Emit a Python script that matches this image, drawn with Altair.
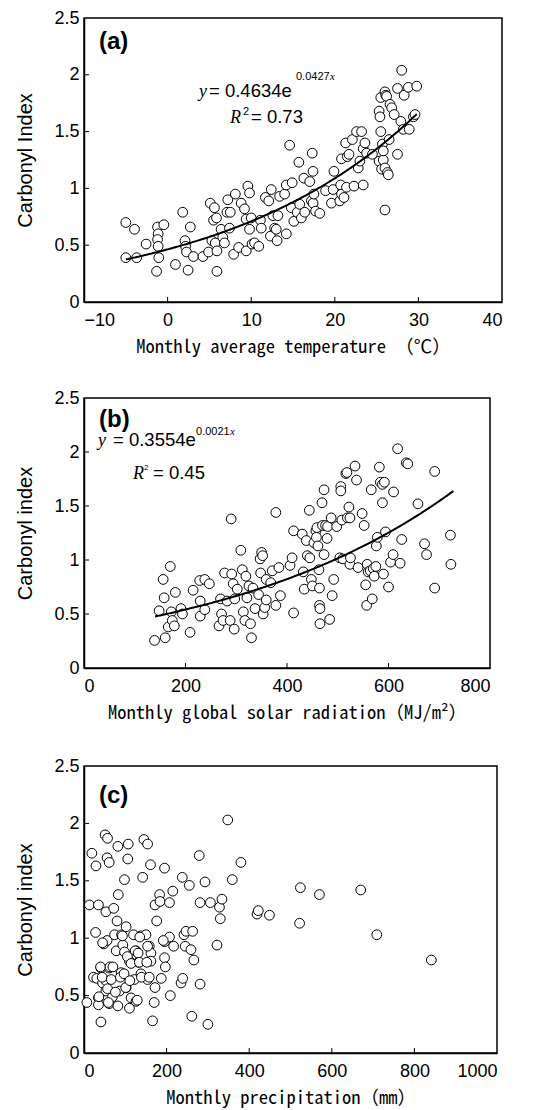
import altair as alt
import pandas as pd

# ---------------- data ----------------
# (a) Monthly average temperature vs carbonyl index
A_TEMP = [-5.0, -3.96, -5.0, -3.7, -2.57, -1.32, -1.2, -1.13, -1.2, -1.13,
          -1.06, -0.45, 0.94, 1.81, 2.08, 2.15, 2.26, 2.45, 2.72, 3.09,
          4.23, 4.9, 5.1, 5.3, 5.5, 5.6, 5.7, 5.85, 5.9, 5.9,
          6.4, 6.6, 6.8, 7.1, 7.2, 7.4, 7.5, 7.9, 8.1, 8.5,
          8.8, 9.2, 9.4, 9.4, 9.6, 9.8, 9.8, 10.0, 10.1, 10.4,
          10.9, 11.1, 11.2, 11.7, 12.1, 12.3, 12.4, 12.6, 12.8, 13.0,
          13.1, 13.2, 13.4, 14.0, 14.2, 14.2, 14.6, 14.8, 14.9, 15.1,
          15.5, 15.7, 15.8, 16.0, 16.3, 16.4, 17.0, 17.2, 17.3, 17.4,
          17.4, 17.5, 17.7, 18.2, 18.9, 19.6, 19.8, 19.9, 20.6, 20.7,
          20.8, 20.8, 21.1, 21.3, 21.4, 21.5, 21.7, 22.1, 22.3, 22.6,
          22.8, 23.0, 23.2, 23.4, 23.4, 23.6, 23.8, 24.5, 25.3, 25.5,
          25.3, 25.4, 25.5, 25.6, 25.7, 25.8, 25.8, 26.0, 26.0, 26.0,
          26.1, 26.2, 26.3, 26.4, 26.5, 26.6, 26.8, 27.1, 27.5, 27.5,
          27.9, 28.0, 28.3, 28.2, 28.8, 28.9, 29.4, 29.6, 29.8]
A_CI = [0.70, 0.64, 0.39, 0.39, 0.51, 0.27, 0.66, 0.60, 0.55, 0.49,
        0.39, 0.68, 0.33, 0.79, 0.54, 0.49, 0.44, 0.28, 0.66, 0.40,
        0.40, 0.44, 0.87, 0.54, 0.72, 0.83, 0.52, 0.74, 0.45, 0.27,
        0.64, 0.57, 0.52, 0.79, 0.90, 0.65, 0.79, 0.42, 0.95, 0.48,
        0.87, 0.82, 0.73, 0.45, 1.02, 0.96, 0.64, 0.74, 0.51, 0.52,
        0.49, 0.72, 0.65, 0.92, 0.89, 0.58, 0.99, 0.76, 0.65, 0.64,
        0.54, 0.76, 0.93, 0.95, 0.60, 1.03, 1.38, 0.83, 1.05, 0.71,
        0.79, 1.23, 0.86, 0.74, 1.09, 0.79, 1.06, 0.89, 1.31, 1.15,
        0.87, 0.95, 0.80, 0.78, 0.98, 0.87, 0.99, 1.15, 0.89, 1.03,
        1.26, 0.95, 0.92, 1.40, 1.01, 1.28, 1.30, 1.43, 1.02, 1.50,
        1.18, 1.24, 1.50, 1.03, 1.35, 1.40, 1.31, 1.30, 1.24, 1.80,
        1.68, 1.63, 1.50, 1.17, 1.39, 1.25, 1.33, 0.81, 1.85, 1.18,
        1.82, 1.81, 1.14, 1.12, 1.43, 1.74, 1.71, 1.65, 1.88, 1.30,
        1.59, 2.04, 1.82, 1.52, 1.89, 1.52, 1.63, 1.65, 1.90]

# (b) Monthly global solar radiation vs carbonyl index
B_RAD = [139, 148, 156, 158, 160, 166, 170, 172, 174, 178,
         180, 191, 194, 209, 215, 228, 229, 229, 238, 238,
         247, 266, 269, 271, 274, 277, 282, 288, 290, 291,
         294, 296, 297, 302, 309, 312, 314, 317, 319, 321,
         325, 328, 330, 333, 337, 344, 347, 348, 350, 352,
         353, 356, 359, 359, 368, 371, 378, 378, 384, 387,
         406, 410, 413, 413, 430, 432, 434, 438, 440, 444,
         445, 448, 450, 453, 457, 458, 459, 461, 463, 464,
         464, 465, 465, 469, 470, 473, 473, 476, 479, 480,
         484, 487, 489, 492, 498, 504, 506, 506, 508, 510,
         516, 518, 519, 522, 524, 524, 525, 534, 537, 540,
         548, 552, 555, 557, 558, 560, 564, 566, 568, 570,
         572, 576, 578, 582, 584, 588, 588, 590, 592, 594,
         600, 604, 609, 610, 618, 623, 626, 635, 638, 658,
         671, 675, 691, 691, 722, 723, 575]
B_CI = [0.255, 0.53, 0.82, 0.65, 0.28, 0.38, 0.94, 0.52, 0.44, 0.39,
        0.70, 0.55, 0.50, 0.33, 0.72, 0.81, 0.62, 0.48, 0.82, 0.54,
        0.78, 0.39, 0.64, 0.50, 0.44, 0.88, 0.62, 0.44, 1.38, 0.87,
        0.78, 0.36, 0.64, 0.73, 1.09, 0.91, 0.52, 0.44, 0.85, 0.65,
        0.76, 0.41, 0.28, 0.74, 0.55, 0.68, 1.01, 0.88, 1.07, 1.04,
        0.50, 0.56, 0.82, 0.63, 0.79, 0.90, 0.58, 1.44, 0.93, 0.67,
        0.95, 1.02, 0.51, 1.27, 1.24, 0.89, 0.73, 1.18, 1.04, 1.46,
        1.02, 0.82, 0.76, 1.16, 1.27, 1.21, 1.30, 1.13, 0.91, 0.74,
        0.58, 0.55, 0.41, 1.53, 1.32, 1.65, 1.05, 1.32, 1.20, 1.31,
        0.45, 1.39, 0.67, 0.82, 1.31, 1.02, 1.68, 1.64, 1.37, 1.01,
        1.80, 1.81, 1.39, 1.49, 1.39, 0.96, 1.02, 1.87, 1.74, 0.93,
        1.43, 1.32, 0.77, 0.58, 0.96, 0.89, 0.90, 1.65, 0.64, 0.92,
        0.85, 1.13, 1.21, 1.86, 1.72, 1.70, 1.53, 0.87, 1.72, 1.26,
        0.75, 0.98, 1.05, 1.63, 2.03, 0.97, 1.19, 1.90, 1.89, 1.52,
        1.15, 1.05, 1.82, 0.74, 1.23, 0.96, 0.94]

# (c) Monthly precipitation vs carbonyl index
C_PREC = [7, 13, 19, 23, 28, 29, 31, 35, 35, 35,
          41, 41, 45, 48, 51, 53, 53, 53, 56, 56,
          57, 61, 61, 61, 69, 72, 74, 78, 80, 82,
          83, 86, 90, 91, 94, 98, 102, 102, 106, 107,
          110, 110, 114, 120, 122, 126, 126, 132, 137, 138,
          142, 145, 150, 154, 154, 158, 161, 162, 162, 166,
          170, 172, 172, 176, 183, 184, 187, 195, 195, 195,
          197, 207, 207, 209, 215, 217, 235, 238, 239, 242,
          245, 247, 255, 259, 261, 263, 266, 279, 281, 281,
          293, 300, 306, 322, 328, 330, 334, 348, 359, 380,
          419, 422, 449, 522, 524, 570, 670, 709, 841,
          36, 40, 44, 45, 57, 59, 63, 66, 70, 76,
          82, 88, 93, 97, 98, 101, 105, 111, 114, 124,
          129, 131, 134, 135, 139, 152, 154, 158, 192]
C_CI = [0.44, 1.29, 1.74, 0.66, 1.05, 1.63, 0.65, 1.29, 0.48, 0.42,
        0.27, 0.74, 0.61, 0.95, 1.90, 1.23, 0.63, 0.54, 1.70, 0.98,
        1.87, 1.66, 0.74, 0.43, 0.49, 1.26, 1.03, 0.89, 1.15, 1.80,
        1.38, 0.54, 0.70, 1.03, 0.94, 1.51, 1.10, 0.57, 1.69, 1.82,
        0.80, 0.39, 0.48, 1.03, 0.64, 0.89, 0.45, 0.79, 1.02, 0.69,
        1.53, 1.86, 1.03, 1.82, 0.64, 0.93, 1.64, 0.87, 0.80, 0.28,
        0.44, 0.57, 1.29, 1.15, 1.38, 1.32, 0.65, 1.61, 0.97, 0.83,
        0.75, 1.01, 1.31, 0.50, 1.41, 0.93, 0.61, 1.53, 0.65, 1.03,
        0.93, 1.06, 1.46, 0.90, 0.32, 1.06, 0.81, 1.72, 0.60, 1.31,
        1.49, 0.25, 1.31, 0.94, 1.27, 1.17, 1.34, 2.03, 1.51, 1.66,
        1.21, 1.24, 1.20, 1.13, 1.44, 1.38, 1.42, 1.03, 0.81,
        0.49, 0.75, 0.66, 0.96, 0.56, 0.44, 0.75, 0.64, 0.75, 0.53,
        0.41, 0.66, 1.02, 0.69, 0.88, 0.57, 0.84, 0.63, 0.78, 0.89,
        0.46, 0.87, 0.79, 1.01, 0.66, 0.79, 0.93, 0.66, 0.98]

# fitted curves (coefficients as printed on the chart) and their x extents
A_FIT = (0.4634, 0.0427)
A_FIT_RANGE = (-5.0, 29.8, 0.1)
B_FIT = (0.3554, 0.0021)
B_FIT_RANGE = (140.0, 728.0, 2.0)

# axes
Y_DOMAIN = [0, 2.5]
Y_LABELS = [0, 0.5, 1, 1.5, 2, 2.5]
Y_INNER_TICKS = [0.5, 1, 1.5, 2]
A_DOMAIN = [-10, 40]
A_LABELS = [-10, 0, 10, 20, 30, 40]
A_INNER_TICKS = [0, 10, 20, 30]
B_DOMAIN = [0, 800]
B_LABELS = [0, 200, 400, 600, 800]
B_INNER_TICKS = [200, 400, 600]
C_DOMAIN = [0, 1000]
C_LABELS = [0, 200, 400, 600, 800, 1000]
C_INNER_TICKS = [200, 400, 600, 800]

SANS = "Liberation Sans"
SERIF = "Liberation Serif"
MONO = "Noto Sans Mono CJK JP, Noto Sans CJK JP"


def txt(s, px, py, size, font=SANS, style="normal", weight="normal",
        baseline="alphabetic"):
    return alt.Chart(pd.DataFrame({"t": [s]})).mark_text(
        align="left", baseline=baseline, font=font, fontSize=size,
        fontStyle=style, fontWeight=weight, color="black"
    ).encode(x=alt.value(px), y=alt.value(py), text="t:N")


def panel(xs, ys, xdom, xlabels, xticks, xtitle, ytitle, W, H, texts, fit=None):
    xsc = alt.Scale(domain=xdom, nice=False, zero=False)
    ysc = alt.Scale(domain=Y_DOMAIN, nice=False, zero=False)
    xax = alt.Axis(values=xlabels, format="d", title=xtitle)
    yax = alt.Axis(values=Y_LABELS, format="~r", title=ytitle)
    df = pd.DataFrame({"x": xs, "y": ys})
    pts = alt.Chart(df).mark_circle(
        size=95, fill="white", fillOpacity=1, stroke="black",
        strokeWidth=1, opacity=1
    ).encode(
        x=alt.X("x:Q", scale=xsc, axis=xax),
        y=alt.Y("y:Q", scale=ysc, axis=yax),
    )
    layers = [pts]
    if fit is not None:
        (a, b), (x0, x1, step) = fit
        curve = alt.Chart(alt.sequence(x0, x1 + step / 2, step, as_="x")).transform_calculate(
            y=f"{a}*exp({b}*datum.x)"
        ).mark_line(color="black", strokeWidth=2).encode(
            x=alt.X("x:Q", scale=xsc, axis=xax),
            y=alt.Y("y:Q", scale=ysc, axis=yax),
        )
        layers.append(curve)
    xt = alt.Chart(pd.DataFrame({"x": xticks})).mark_rule(
        color="black", strokeWidth=1
    ).encode(x=alt.X("x:Q", scale=xsc, axis=xax),
             y=alt.value(H), y2=alt.value(H - 5))
    yt = alt.Chart(pd.DataFrame({"y": Y_INNER_TICKS})).mark_rule(
        color="black", strokeWidth=1
    ).encode(y=alt.Y("y:Q", scale=ysc, axis=yax),
             x=alt.value(0), x2=alt.value(5))
    layers += [xt, yt] + texts
    return alt.layer(*layers).properties(width=W, height=H)


EQ = 18.5
SUP = 11

# panel (a)
WA, HA = 418, 284
texts_a = [
    txt("(a)", 15, 24, 24, weight="bold", baseline="middle"),
    txt("y", 115, 79, 18, font=SERIF, style="italic"),
    txt("= 0.4634e", 125, 79, EQ),
    txt("0.0427", 212, 62, SUP),
    txt("x", 246, 62, SUP, font=SERIF, style="italic"),
    txt("R", 146, 105, 18, font=SERIF, style="italic"),
    txt("2", 159, 97, SUP),
    txt("= 0.73", 167, 105, EQ),
]
pa = panel(A_TEMP, A_CI, A_DOMAIN, A_LABELS, A_INNER_TICKS,
           "Monthly average temperature （℃）", "Carbonyl Index",
           WA, HA, texts_a, fit=(A_FIT, A_FIT_RANGE))

# panel (b)
WB, HB = 406, 270
texts_b = [
    txt("(b)", 15, 22, 24, weight="bold", baseline="middle"),
    txt("y", 14, 48, 18, font=SERIF, style="italic"),
    txt("= 0.3554e", 29, 48, EQ),
    txt("0.0021", 112, 37, SUP),
    txt("x", 146, 37, SUP, font=SERIF, style="italic"),
    txt("R", 49, 81, 18, font=SERIF, style="italic"),
    txt("2", 60, 72, 8),
    txt("= 0.45", 69, 81, EQ),
]
pb = panel(B_RAD, B_CI, B_DOMAIN, B_LABELS, B_INNER_TICKS,
           "Monthly global solar radiation（MJ/m²）", "Carbonyl index",
           WB, HB, texts_b, fit=(B_FIT, B_FIT_RANGE))

# panel (c)
WC, HC = 413, 287
texts_c = [
    txt("(c)", 15, 30, 24, weight="bold", baseline="middle"),
]
pc = panel(C_PREC, C_CI, C_DOMAIN, C_LABELS, C_INNER_TICKS,
           "Monthly precipitation（mm）", "Carbonyl index",
           WC, HC, texts_c)

chart = alt.vconcat(
    alt.vconcat(pa, pb, spacing=31), pc, spacing=33
).properties(
    padding={"left": 15, "top": 8, "right": 5, "bottom": 0},
    background="white",
).configure_view(
    stroke="black", strokeWidth=1.5
).configure_axis(
    grid=False, ticks=False, domainColor="black", domainWidth=1.5,
    labelFont=SANS, labelFontSize=18, labelColor="black",
    titleColor="black", titleFontWeight="normal",
).configure_axisX(
    labelPadding=9, titleFont=MONO, titleFontSize=18.5, titlePadding=8,
).configure_axisY(
    labelPadding=5, titleFont=SANS, titleFontSize=20, titlePadding=18,
)

chart.save("out.html", embed_options={"renderer": "svg", "actions": False})
